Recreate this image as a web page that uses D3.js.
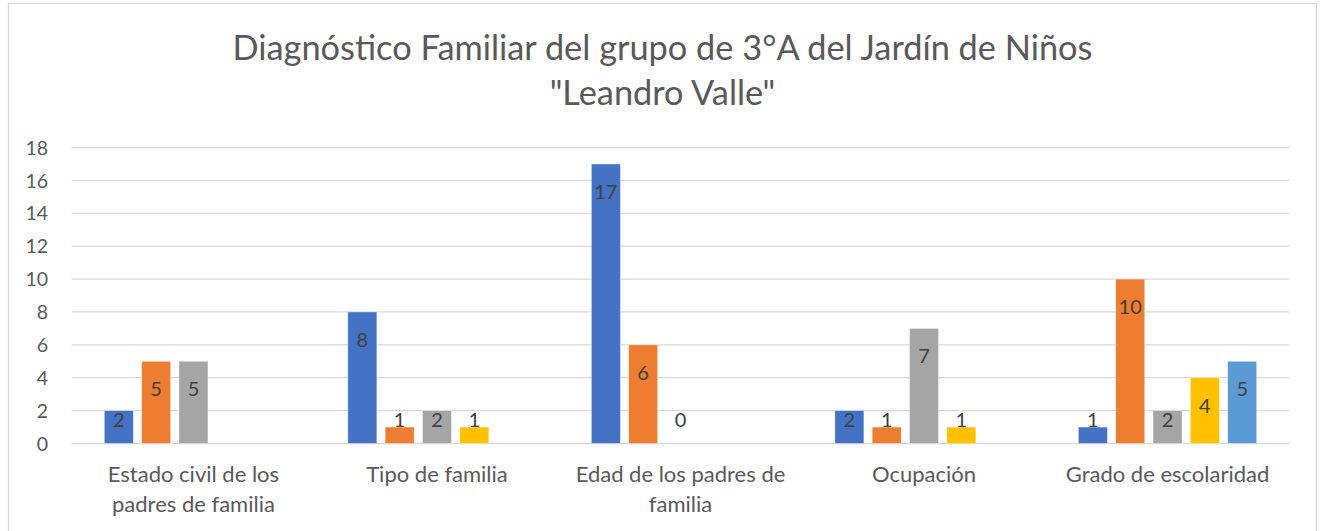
<!DOCTYPE html>
<html><head><meta charset="utf-8">
<script src="https://cdn.jsdelivr.net/npm/d3@7"></script>
<style>body{margin:0;background:#fff}svg{display:block}text{font-family:Lato,"Open Sans",sans-serif}</style>
</head><body>
<svg id="c" width="1324" height="531"></svg>
<script>
const titleLines = ["Diagnóstico Familiar del grupo de 3°A del Jardín de Niños", "\"Leandro Valle\""];
const categories = ["Estado civil de los\npadres de familia", "Tipo de familia", "Edad de los padres de\nfamilia", "Ocupación", "Grado de escolaridad"];
const seriesNames = ["Serie 1", "Serie 2", "Serie 3", "Serie 4", "Serie 5"];
const seriesColors = ["#4472C4", "#ED7D31", "#A5A5A5", "#FFC000", "#5B9BD5"];
const serie1 = [2, 8, 17, 2, 1];
const serie2 = [5, 1, 6, 1, 10];
const serie3 = [5, 2, 0, 7, 2];
const serie4 = [null, 1, null, 1, 4];
const serie5 = [null, null, null, null, 5];
const yTicks = [0, 2, 4, 6, 8, 10, 12, 14, 16, 18];

(function () {
const series = [serie1, serie2, serie3, serie4, serie5];
const svg = d3.select("#c");

// chart border
svg.append("rect").attr("x", 8.5).attr("y", 3.5).attr("width", 1308).attr("height", 540)
  .attr("fill", "#fff").attr("stroke", "#d9d9d9").attr("stroke-width", 1.3);

const pLeft = 71.7, pRight = 1289.3, pTop = 147.5, pBottom = 443.5;
const x0 = d3.scaleBand().domain(d3.range(categories.length)).range([pLeft, pRight]).padding(0);
const groupPad = 32.6;
const x1 = d3.scaleBand().domain(d3.range(series.length)).range([groupPad, x0.bandwidth() - groupPad]).paddingInner(0.222).paddingOuter(0);
const y = d3.scaleLinear().domain([0, 18]).range([pBottom, pTop]);

// gridlines
svg.append("g").selectAll("line").data(yTicks).join("line")
  .attr("x1", pLeft).attr("x2", pRight)
  .attr("y1", d => y(d)).attr("y2", d => y(d))
  .attr("stroke", "#d9d9d9").attr("stroke-width", 1.3);

// y axis labels
const yAxis = svg.append("g").attr("transform", `translate(48,0)`)
  .call(d3.axisLeft(y).tickValues(yTicks).tickSize(0).tickPadding(0));
yAxis.select(".domain").remove();
yAxis.selectAll("text").attr("font-size", 19.5).attr("fill", "#595959").attr("font-family", "Lato, sans-serif").attr("dy", "0.34em");

// bars
const flat = [];
series.forEach((s, si) => s.forEach((v, ci) => { if (v !== null) flat.push({ si, ci, v }); }));
svg.append("g").selectAll("rect").data(flat).join("rect")
  .attr("x", d => x0(d.ci) + x1(d.si))
  .attr("y", d => y(d.v))
  .attr("width", x1.bandwidth())
  .attr("height", d => y(0) - y(d.v))
  .attr("fill", d => seriesColors[d.si])
  .attr("stroke", "#fff").attr("stroke-opacity", 0.5).attr("stroke-width", 0.8);

// data labels
svg.append("g").selectAll("text").data(flat).join("text")
  .attr("x", d => x0(d.ci) + x1(d.si) + x1.bandwidth() / 2)
  .attr("y", d => Math.min(y(d.v) + 28, pBottom - 24))
  .attr("dy", "0.35em")
  .attr("text-anchor", "middle")
  .attr("font-size", 20).attr("fill", "#404040")
  .text(d => d.v);

// category labels
const cat = svg.append("g");
categories.forEach((c, i) => {
  const t = cat.append("text").attr("text-anchor", "middle").attr("font-size", 22).attr("fill", "#595959");
  c.split("\n").forEach((line, li) => {
    t.append("tspan").attr("x", x0(i) + x0.bandwidth() / 2).attr("y", 481.5 + li * 30).text(line);
  });
});

// title
const title = svg.append("g");
titleLines.forEach((line, i) => {
  title.append("text").attr("x", 662.5).attr("y", 60 + i * 45)
    .attr("text-anchor", "middle").attr("font-size", 31).attr("fill", "#595959").text(line);
});
const t0 = title.select("text").node();
const w = t0.getComputedTextLength();
title.selectAll("text").attr("font-size", 31 * 860 / w);
})();
</script>
</body></html>
